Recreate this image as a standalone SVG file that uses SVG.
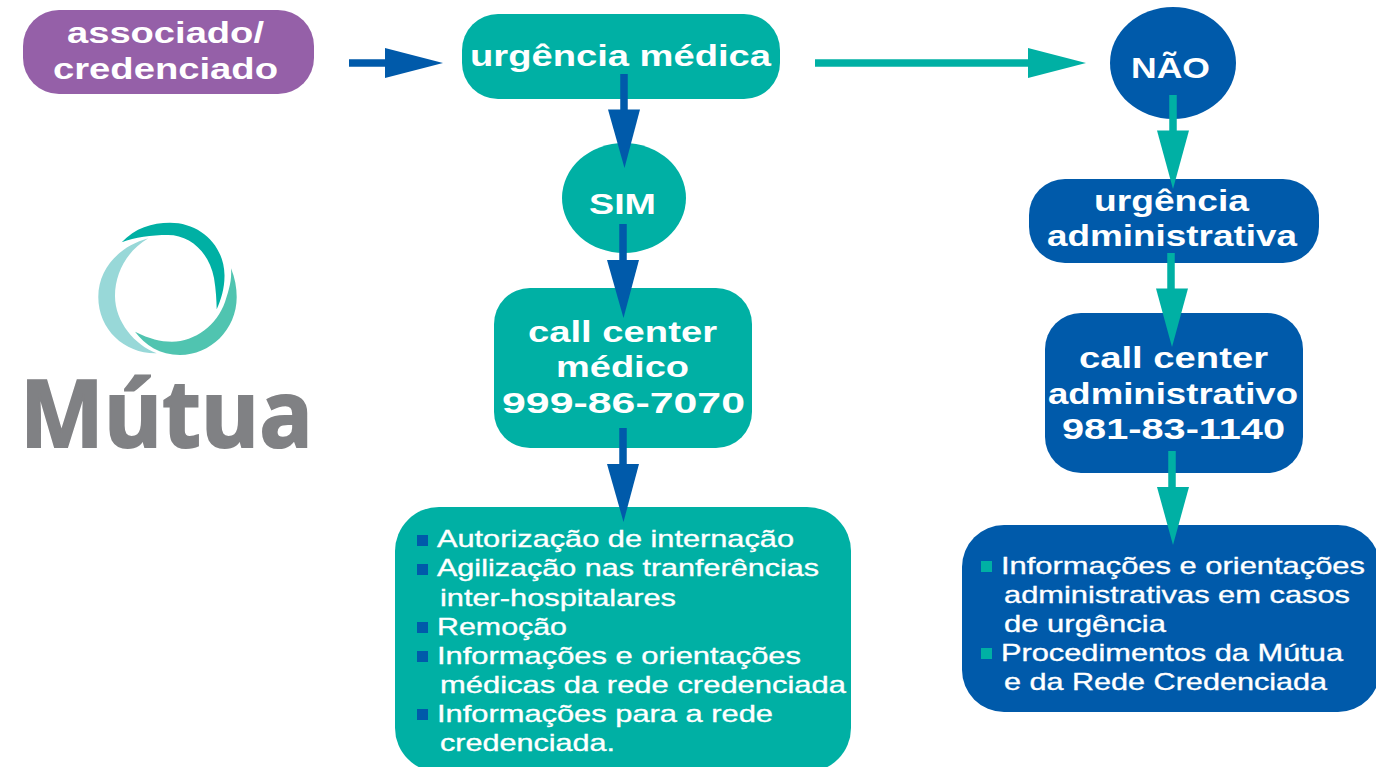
<svg xmlns="http://www.w3.org/2000/svg" width="1376" height="767" viewBox="0 0 1376 767">
<style>
text{font-family:"Liberation Sans",Arial,sans-serif;fill:#fff;}
.t{font-size:30px;font-weight:700;}
.l{font-size:24px;stroke:#fff;stroke-width:.35px;}
.teal{fill:#00b0a4;}
.blue{fill:#005aaa;}
.lineb{stroke:#005aaa;stroke-width:7.5;fill:none;}
.linet{stroke:#00b0a4;stroke-width:7.5;fill:none;}
</style>
<rect width="1376" height="767" fill="#fff"/>
<g id="logo">
<path d="M121.7 242.3C135 228 152 222.7 170 222.7C200 222.7 224 245 224.5 275C224.7 288 221 300 216.7 309.3C216.5 300 216 290 214 278C209 252 190 235 168 235C151 235 135 237 121.7 242.3Z" fill="#00b0a4"/>
<path d="M148.3 238.3C120 246 98.3 268 98.3 297C98.3 330 125 354 156.7 353.3C135 345 115 322 115 296C115 272 128 250 148.3 238.3Z" fill="#98d8d8"/>
<path d="M231 268.3C235 278 236.7 288 236.7 297C236.7 330 210 355 180 355C160 355 145 345 135 331.7C150 339 160 341.7 172 341.7C195 341.7 217 325 225 302C229 290 232 280 231 268.3Z" fill="#50c4b0"/>
<text x="20" y="447" textLength="293" lengthAdjust="spacingAndGlyphs" style="font-family:'Open Sans','Noto Sans',sans-serif;font-size:93px;font-weight:700;fill:#808184;stroke:#808184;stroke-width:2px">Mútua</text>
</g>
<g id="associado">
<rect x="23" y="10" width="291" height="84" rx="36" fill="#9560a8"/>
<text class="t" x="67" y="43" textLength="197" lengthAdjust="spacingAndGlyphs">associado/</text>
<text class="t" x="53" y="79" textLength="225" lengthAdjust="spacingAndGlyphs">credenciado</text>
</g>
<g id="urgencia-medica">
<rect class="teal" x="462" y="14" width="318" height="85" rx="36"/>
<text class="t" x="470" y="66" textLength="301" lengthAdjust="spacingAndGlyphs">urgência médica</text>
</g>
<g id="sim">
<ellipse class="teal" cx="624" cy="198" rx="62" ry="55"/>
<text class="t" x="589" y="214" textLength="67" lengthAdjust="spacingAndGlyphs">SIM</text>
</g>
<g id="nao">
<ellipse class="blue" cx="1173" cy="63" rx="63" ry="56"/>
<text class="t" x="1131" y="78" textLength="79" lengthAdjust="spacingAndGlyphs">NÃO</text>
</g>
<g id="call-medico">
<rect class="teal" x="494" y="288" width="258" height="160" rx="36"/>
<text class="t" x="528" y="342" textLength="189" lengthAdjust="spacingAndGlyphs">call center</text>
<text class="t" x="556" y="377" textLength="133" lengthAdjust="spacingAndGlyphs">médico</text>
<text class="t" x="502" y="413" textLength="243" lengthAdjust="spacingAndGlyphs">999-86-7070</text>
</g>
<g id="lista-medica">
<rect class="teal" x="395" y="507" width="456" height="265" rx="44"/>
<g class="blue">
<rect x="417" y="535" width="11" height="11"/><rect x="417" y="564" width="11" height="11"/><rect x="417" y="622" width="11" height="11"/><rect x="417" y="651" width="11" height="11"/><rect x="417" y="709" width="11" height="11"/>
</g>
<text class="l" x="437" y="547" textLength="357" lengthAdjust="spacingAndGlyphs">Autorização de internação</text>
<text class="l" x="437" y="576" textLength="382" lengthAdjust="spacingAndGlyphs">Agilização nas tranferências</text>
<text class="l" x="440" y="606" textLength="236" lengthAdjust="spacingAndGlyphs">inter-hospitalares</text>
<text class="l" x="437" y="635" textLength="130" lengthAdjust="spacingAndGlyphs">Remoção</text>
<text class="l" x="437" y="664" textLength="364" lengthAdjust="spacingAndGlyphs">Informações e orientações</text>
<text class="l" x="440" y="693" textLength="406" lengthAdjust="spacingAndGlyphs">médicas da rede credenciada</text>
<text class="l" x="437" y="722" textLength="336" lengthAdjust="spacingAndGlyphs">Informações para a rede</text>
<text class="l" x="440" y="751" textLength="175" lengthAdjust="spacingAndGlyphs">credenciada.</text>
</g>
<g id="urgencia-administrativa">
<rect class="blue" x="1029" y="179" width="290" height="84" rx="36"/>
<text class="t" x="1094" y="211" textLength="155" lengthAdjust="spacingAndGlyphs">urgência</text>
<text class="t" x="1047" y="246" textLength="250" lengthAdjust="spacingAndGlyphs">administrativa</text>
</g>
<g id="call-administrativo">
<rect class="blue" x="1045" y="313" width="258" height="160" rx="36"/>
<text class="t" x="1079" y="368" textLength="189" lengthAdjust="spacingAndGlyphs">call center</text>
<text class="t" x="1048" y="404" textLength="250" lengthAdjust="spacingAndGlyphs">administrativo</text>
<text class="t" x="1062" y="439" textLength="223" lengthAdjust="spacingAndGlyphs">981-83-1140</text>
</g>
<g id="lista-administrativa">
<rect class="blue" x="962" y="525" width="418" height="187" rx="42"/>
<g class="teal">
<rect x="981" y="561" width="11" height="11"/><rect x="981" y="648" width="11" height="11"/>
</g>
<text class="l" x="1001" y="574" textLength="364" lengthAdjust="spacingAndGlyphs">Informações e orientações</text>
<text class="l" x="1004" y="603" textLength="346" lengthAdjust="spacingAndGlyphs">administrativas em casos</text>
<text class="l" x="1004" y="632" textLength="162" lengthAdjust="spacingAndGlyphs">de urgência</text>
<text class="l" x="1001" y="661" textLength="342" lengthAdjust="spacingAndGlyphs">Procedimentos da Mútua</text>
<text class="l" x="1004" y="690" textLength="323" lengthAdjust="spacingAndGlyphs">e da Rede Credenciada</text>
</g>
<g id="connectors">
<path class="lineb" d="M349 63H390"/><polygon class="blue" points="385,48 443,63 385,78"/>
<path class="linet" d="M815 63H1032"/><polygon class="teal" points="1028,48 1086,63 1028,78"/>
<path class="lineb" d="M624 74V114"/><polygon class="blue" points="608,109.500 640,109.500 624.500,168"/>
<path class="lineb" d="M623 224V266"/><polygon class="blue" points="607,260 639,260 623.500,318"/>
<path class="lineb" d="M623 428V470"/><polygon class="blue" points="607,464 639,464 623.500,522"/>
<path class="linet" d="M1173 95V136"/><polygon class="teal" points="1157,130.500 1189,130.500 1173,189"/>
<path class="linet" d="M1171 253V295"/><polygon class="teal" points="1156,288.500 1188,288.500 1172,347"/>
<path class="linet" d="M1172 451V492"/><polygon class="teal" points="1157,487 1189,487 1173,545"/>
</g>
</svg>
